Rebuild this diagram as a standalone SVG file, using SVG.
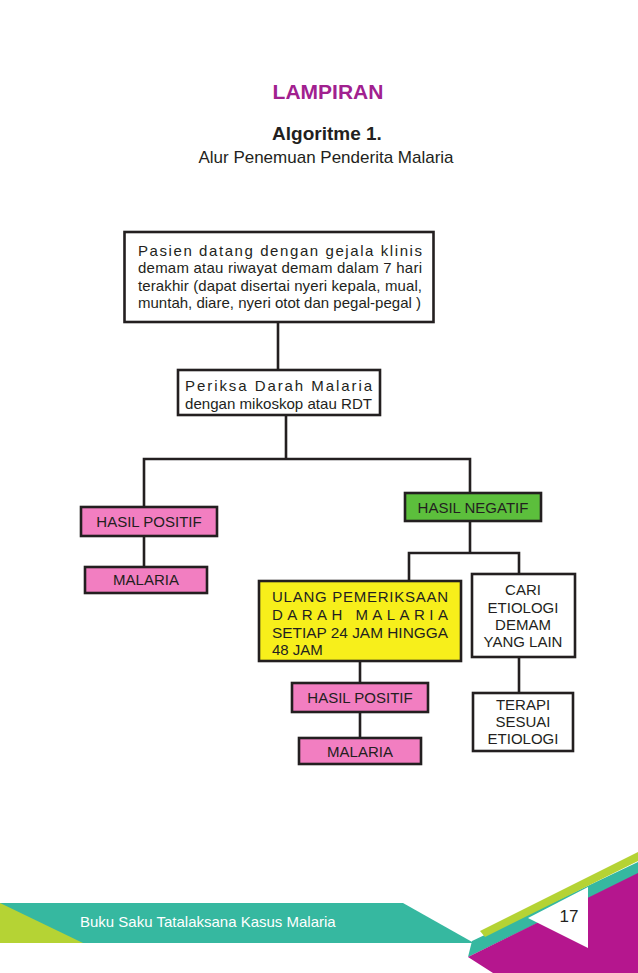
<svg xmlns="http://www.w3.org/2000/svg" width="638" height="973" viewBox="0 0 638 973">
<style>
.t{font-family:"Liberation Sans",Arial,sans-serif;font-size:15px;fill:#231f20}
.c{text-anchor:middle}
.box{stroke:#231f20;stroke-width:2.6}
.ln{stroke:#231f20;stroke-width:2.6;fill:none}
.pink{fill:#f27ec1}
</style>
<rect width="638" height="973" fill="#ffffff"/>
<text x="328" y="99" font-family="Liberation Sans,Arial,sans-serif" font-size="21" font-weight="bold" fill="#a1208f" text-anchor="middle">LAMPIRAN</text>
<text x="327" y="140" class="t c" style="font-size:19px;font-weight:bold">Algoritme 1.</text>
<text x="326" y="163" class="t c" style="font-size:17px">Alur Penemuan Penderita Malaria</text>

<g id="connectors">
<line class="ln" x1="278" y1="322" x2="278" y2="370"/>
<polyline class="ln" points="286,415 286,459"/>
<polyline class="ln" points="144,507 144,459 470,459 470,493"/>
<line class="ln" x1="144" y1="536" x2="144" y2="567"/>
<polyline class="ln" points="470,521 470,553"/>
<polyline class="ln" points="409,581 409,553 519,553 519,574"/>
<line class="ln" x1="519" y1="657" x2="519" y2="693"/>
<line class="ln" x1="360" y1="661" x2="360" y2="683"/>
<line class="ln" x1="360" y1="712" x2="360" y2="738"/>
</g>

<g id="n1">
<rect class="box" x="124.5" y="232" width="309" height="90" fill="#ffffff"/>
<text class="t" x="138" y="256" textLength="284" lengthAdjust="spacing">Pasien datang dengan gejala klinis</text>
<text class="t" x="138" y="273" textLength="284" lengthAdjust="spacing">demam atau riwayat demam dalam 7 hari</text>
<text class="t" x="138" y="291" textLength="284" lengthAdjust="spacing">terakhir (dapat disertai nyeri kepala, mual,</text>
<text class="t" x="138" y="308" textLength="283" lengthAdjust="spacingAndGlyphs">muntah, diare, nyeri otot dan pegal-pegal )</text>
</g>

<g id="n2">
<rect class="box" x="178" y="370" width="202" height="45" fill="#ffffff"/>
<text class="t" x="185" y="391" textLength="187" lengthAdjust="spacing">Periksa Darah Malaria</text>
<text class="t" x="185" y="409" textLength="187" lengthAdjust="spacingAndGlyphs">dengan mikoskop atau RDT</text>
</g>

<g id="n3">
<rect class="box pink" x="81" y="507" width="136" height="29"/>
<text class="t c" x="149" y="527">HASIL POSITIF</text>
</g>

<g id="n4">
<rect class="box pink" x="85" y="567" width="122" height="26"/>
<text class="t c" x="146" y="585">MALARIA</text>
</g>

<g id="n5">
<rect class="box" x="405" y="493" width="136" height="28" fill="#5cbf3c"/>
<text class="t c" x="473" y="513">HASIL NEGATIF</text>
</g>

<g id="n6">
<rect class="box" x="259" y="581" width="202" height="80" fill="#f7ef1b"/>
<text class="t" x="272" y="602" textLength="176" lengthAdjust="spacing">ULANG  PEMERIKSAAN</text>
<text class="t" x="272" y="620" textLength="176" lengthAdjust="spacing">DARAH MALARIA</text>
<text class="t" x="272" y="638" textLength="176" lengthAdjust="spacingAndGlyphs">SETIAP 24 JAM HINGGA</text>
<text class="t" x="272" y="655">48 JAM</text>
</g>

<g id="n7">
<rect class="box" x="472" y="574" width="103" height="83" fill="#ffffff"/>
<text class="t c" x="523" y="595">CARI</text>
<text class="t c" x="523" y="613">ETIOLOGI</text>
<text class="t c" x="523" y="630">DEMAM</text>
<text class="t c" x="523" y="647">YANG LAIN</text>
</g>

<g id="n8">
<rect class="box" x="473" y="693" width="100" height="58" fill="#ffffff"/>
<text class="t c" x="523" y="710">TERAPI</text>
<text class="t c" x="523" y="727">SESUAI</text>
<text class="t c" x="523" y="744">ETIOLOGI</text>
</g>

<g id="n9">
<rect class="box pink" x="292" y="683" width="136" height="29"/>
<text class="t c" x="360" y="703">HASIL POSITIF</text>
</g>

<g id="n10">
<rect class="box pink" x="299" y="738" width="122" height="26"/>
<text class="t c" x="360" y="757">MALARIA</text>
</g>

<g id="footer">
<polygon points="0,903 403,903 474,943 0,943" fill="#36b8a0"/>
<polygon points="0,903 83,943 0,943" fill="#b5d334"/>
<polygon points="472,941 638,862 638,874 468,957" fill="#36b8a0"/>
<polygon points="468,957 638,873 638,973 493,973" fill="#b5168e"/>
<polygon points="588,887 528,918 588,948" fill="#ffffff"/>
<polygon points="480,931 638,852 638,861 485,937" fill="#b5d334"/>
<text x="80" y="927" font-family="Liberation Sans,Arial,sans-serif" font-size="15" fill="#ffffff">Buku Saku Tatalaksana Kasus Malaria</text>
<text x="569" y="922" font-family="Liberation Sans,Arial,sans-serif" font-size="17" fill="#231f20" text-anchor="middle">17</text>
</g>
</svg>
